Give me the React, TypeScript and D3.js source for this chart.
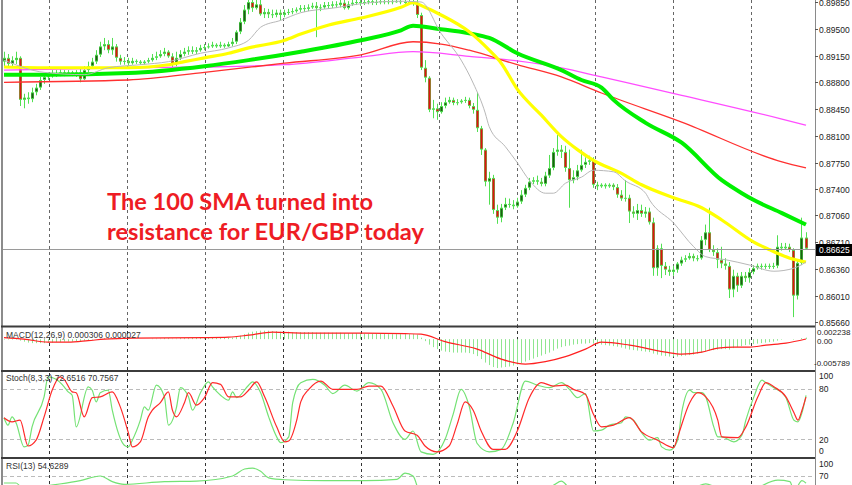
import React from "react";
import * as d3 from "d3";

// ---------- DATA ----------
const OPEN0 = 0.8907;
const closes = [
  0.8912,0.8904,0.8909,0.8912,0.8857,0.8860,0.8858,0.8867,0.8873,0.8883,
  0.8887,0.8888,0.8892,0.8891,0.8893,0.8892,0.8893,0.8891,0.8893,0.8884,
  0.8896,0.8901,0.8907,0.8916,0.8927,0.8930,0.8922,0.8927,0.8912,0.8907,
  0.8908,0.8905,0.8908,0.8907,0.8905,0.8907,0.8909,0.8912,0.8914,0.8917,
  0.8920,0.8914,0.8904,0.8912,0.8917,0.8920,0.8922,0.8920,0.8922,0.8925,
  0.8926,0.8927,0.8929,0.8927,0.8929,0.8927,0.8930,0.8933,0.8946,0.8959,
  0.8975,0.8985,0.8977,0.8982,0.8969,0.8972,0.8969,0.8968,0.8971,0.8968,
  0.8971,0.8972,0.8973,0.8975,0.8977,0.8976,0.8978,0.8980,0.8977,0.8978,
  0.8981,0.8980,0.8982,0.8981,0.8984,0.8977,0.8982,0.8984,0.8985,0.8984,
  0.8985,0.8986,0.8984,0.8985,0.8986,0.8985,0.8986,0.8985,0.8986,0.8985,
  0.8984,0.8985,0.8984,0.8968,0.8899,0.8886,0.8844,0.8846,0.8841,0.8849,
  0.8854,0.8857,0.8853,0.8854,0.8856,0.8857,0.8849,0.8844,0.8820,0.8792,
  0.8750,0.8755,0.8713,0.8703,0.8716,0.8721,0.8720,0.8718,0.8724,0.8733,
  0.8742,0.8750,0.8752,0.8750,0.8747,0.8758,0.8768,0.8789,0.8792,0.8789,
  0.8768,0.8752,0.8756,0.8765,0.8772,0.8776,0.8778,0.8746,0.8744,0.8746,
  0.8744,0.8746,0.8743,0.8733,0.8728,0.8729,0.8711,0.8708,0.8713,0.8708,
  0.8711,0.8697,0.8637,0.8663,0.8640,0.8635,0.8632,0.8635,0.8643,0.8648,
  0.8650,0.8653,0.8650,0.8650,0.8674,0.8684,0.8661,0.8658,0.8648,0.8643,
  0.8640,0.8609,0.8627,0.8614,0.8627,0.8624,0.8632,0.8637,0.8640,0.8639,
  0.8640,0.8639,0.8640,0.8665,0.8663,0.8665,0.8661,0.8601,0.8644,0.8677,
  0.86625,
];
const highs = [
  0.8920,0.8917,0.8914,0.8920,0.8914,0.8865,0.8867,0.8873,0.8878,0.8887,
  0.8891,0.8893,0.8896,0.8896,0.8897,0.8896,0.8896,0.8895,0.8896,0.8899,
  0.8901,0.8907,0.8912,0.8922,0.8933,0.8938,0.8935,0.8938,0.8930,0.8916,
  0.8913,0.8912,0.8912,0.8910,0.8909,0.8909,0.8912,0.8917,0.8920,0.8922,
  0.8925,0.8922,0.8918,0.8920,0.8922,0.8925,0.8927,0.8927,0.8926,0.8929,
  0.8930,0.8931,0.8933,0.8931,0.8933,0.8931,0.8933,0.8938,0.8948,0.8964,
  0.8981,0.8988,0.8988,0.8988,0.8988,0.8977,0.8976,0.8975,0.8975,0.8975,
  0.8975,0.8976,0.8977,0.8978,0.8981,0.8981,0.8982,0.8984,0.8985,0.8982,
  0.8985,0.8985,0.8986,0.8986,0.8988,0.8988,0.8986,0.8988,0.8988,0.8988,
  0.8988,0.8988,0.8988,0.8988,0.8988,0.8988,0.8988,0.8988,0.8988,0.8988,
  0.8988,0.8988,0.8988,0.8988,0.8971,0.8909,0.8888,0.8857,0.8852,0.8854,
  0.8860,0.8861,0.8860,0.8858,0.8858,0.8861,0.8860,0.8853,0.8867,0.8823,
  0.8794,0.8763,0.8759,0.8720,0.8721,0.8729,0.8728,0.8726,0.8729,0.8739,
  0.8746,0.8755,0.8756,0.8758,0.8755,0.8763,0.8785,0.8794,0.8811,0.8798,
  0.8797,0.8792,0.8765,0.8772,0.8792,0.8782,0.8784,0.8782,0.8750,0.8748,
  0.8748,0.8748,0.8748,0.8747,0.8739,0.8752,0.8733,0.8718,0.8721,0.8720,
  0.8717,0.8716,0.8703,0.8667,0.8669,0.8645,0.8640,0.8640,0.8645,0.8652,
  0.8654,0.8657,0.8656,0.8654,0.8679,0.8694,0.8716,0.8667,0.8663,0.8665,
  0.8650,0.8645,0.8635,0.8631,0.8632,0.8632,0.8637,0.8641,0.8643,0.8643,
  0.8643,0.8643,0.8644,0.8680,0.8670,0.8670,0.8669,0.8663,0.8648,0.8703,
  0.8684,
];
const lows = [
  0.8901,0.8899,0.8901,0.8904,0.8849,0.8846,0.8852,0.8854,0.8863,0.8870,
  0.8878,0.8883,0.8886,0.8887,0.8888,0.8888,0.8890,0.8888,0.8887,0.8880,
  0.8883,0.8893,0.8899,0.8904,0.8913,0.8922,0.8918,0.8916,0.8907,0.8903,
  0.8903,0.8901,0.8903,0.8904,0.8903,0.8903,0.8905,0.8907,0.8909,0.8912,
  0.8914,0.8912,0.8900,0.8901,0.8909,0.8914,0.8916,0.8917,0.8917,0.8920,
  0.8922,0.8924,0.8925,0.8925,0.8925,0.8925,0.8926,0.8927,0.8930,0.8943,
  0.8956,0.8969,0.8972,0.8975,0.8967,0.8964,0.8964,0.8964,0.8965,0.8961,
  0.8965,0.8968,0.8969,0.8971,0.8972,0.8972,0.8973,0.8976,0.8939,0.8973,
  0.8976,0.8976,0.8977,0.8977,0.8978,0.8975,0.8975,0.8980,0.8981,0.8980,
  0.8981,0.8982,0.8981,0.8981,0.8982,0.8982,0.8982,0.8982,0.8984,0.8982,
  0.8981,0.8981,0.8980,0.8964,0.8896,0.8880,0.8841,0.8833,0.8831,0.8839,
  0.8846,0.8852,0.8850,0.8850,0.8852,0.8853,0.8846,0.8839,0.8815,0.8785,
  0.8744,0.8720,0.8708,0.8695,0.8697,0.8713,0.8716,0.8714,0.8716,0.8721,
  0.8730,0.8739,0.8747,0.8746,0.8744,0.8744,0.8755,0.8765,0.8784,0.8781,
  0.8763,0.8716,0.8748,0.8752,0.8763,0.8768,0.8772,0.8742,0.8739,0.8742,
  0.8741,0.8742,0.8739,0.8729,0.8725,0.8724,0.8696,0.8703,0.8700,0.8704,
  0.8703,0.8694,0.8627,0.8627,0.8624,0.8628,0.8627,0.8627,0.8631,0.8640,
  0.8645,0.8648,0.8646,0.8646,0.8648,0.8667,0.8658,0.8653,0.8637,0.8637,
  0.8635,0.8598,0.8599,0.8606,0.8611,0.8619,0.8618,0.8629,0.8635,0.8635,
  0.8636,0.8636,0.8636,0.8637,0.8660,0.8661,0.8658,0.8573,0.8596,0.8641,
  0.8661,
];

// Moving averages, read at bar indices: [bar, price]
const sma20 = [[0,0.8909],[10,0.8893],[20,0.8890],[26,0.8899],[34,0.8903],[41,0.8907],[49,0.8918],[56,0.8925],[61,0.8935],[64,0.8952],[69,0.8961],[74,0.8971],[82,0.8977],[91,0.8984],[99,0.8986],[104,0.8985],[109,0.8944],[114,0.8909],[117,0.8879],[120,0.8840],[121,0.8822],[125,0.8796],[128,0.8775],[131,0.8752],[135,0.8735],[137,0.8735],[140,0.8748],[144,0.8756],[147,0.8765],[152,0.8763],[155,0.8751],[160,0.8735],[161,0.8726],[167,0.8696],[172,0.8665],[175,0.8652],[180,0.8648],[186,0.8641],[192,0.8633],[197,0.8637],[200,0.8645]];
const sma50 = [[0,0.8900],[12,0.8899],[19,0.8899],[31,0.8899],[36,0.8900],[41,0.8903],[45,0.8907],[50,0.8912],[56,0.8918],[61,0.8925],[70,0.8935],[74,0.8943],[81,0.8955],[89,0.8964],[99,0.8978],[102,0.8984],[105,0.8978],[109,0.8968],[116,0.8946],[121,0.8922],[124,0.8905],[128,0.8871],[134,0.8837],[139,0.8809],[143,0.8792],[147,0.8778],[154,0.8761],[159,0.8746],[167,0.8729],[174,0.8716],[179,0.8700],[187,0.8671],[191,0.8661],[196,0.8650],[200,0.8645]];
const sma100 = [[0,0.8890],[11,0.8890],[31,0.8892],[50,0.8901],[61,0.8909],[74,0.8920],[89,0.8935],[99,0.8948],[102,0.8954],[108,0.8950],[116,0.8944],[121,0.8938],[128,0.8918],[139,0.8896],[144,0.8883],[149,0.8873],[152,0.8857],[160,0.8827],[169,0.8801],[179,0.8752],[184,0.8735],[187,0.8726],[194,0.8709],[200,0.8694]];
const sma200 = [[0,0.8880],[31,0.8883],[50,0.8893],[70,0.8905],[89,0.8916],[102,0.8933],[109,0.8930],[116,0.8922],[128,0.8903],[139,0.8887],[149,0.8866],[169,0.8828],[194,0.8776],[200,0.8768]];
const ema200 = [[0,0.8896],[31,0.8899],[50,0.8900],[70,0.8903],[89,0.8913],[102,0.8920],[116,0.8914],[128,0.8908],[139,0.8899],[149,0.8887],[169,0.8863],[194,0.8832],[200,0.8824]];

const priceTicks = [0.8985,0.8950,0.8915,0.8880,0.8845,0.8810,0.8775,0.8740,0.8706,0.8671,0.8636,0.8601,0.8566];
const priceTickLabels = ["0.89850","0.89500","0.89150","0.88800","0.88450","0.88100","0.87750","0.87400","0.87060","0.86710","0.86360","0.86010","0.85660"];
const lastPrice = 0.86625;
const lastPriceLabel = "0.86625";

// MACD(12,26,9): histogram per bar in units of 1e-4, signal line read at bars
const MACD_UNIT = 1e-4;
const macdHist = [
  -1,-1,-1,-1,-3,-5,-7,-8,-8,-8,
  -8,-7,-7,-6,-6,-5,-5,-5,-4,-4,
  -3,-2,-1,0,1,2,2,2,1,1,
  1,0,0,0,0,0,0,1,1,1,
  2,2,1,1,2,2,2,3,3,3,
  3,3,3,3,3,3,3,3,5,7,
  10,13,15,16,17,17,17,16,16,15,
  15,15,14,14,14,14,14,14,13,13,
  13,13,13,13,13,12,12,12,12,12,
  11,11,11,11,11,11,10,10,10,10,
  10,10,10,9,3,-4,-11,-16,-20,-23,
  -25,-26,-27,-27,-27,-27,-28,-30,-34,-40,
  -47,-52,-56,-58,-57,-56,-55,-53,-51,-48,
  -45,-42,-39,-36,-33,-30,-27,-23,-19,-16,
  -14,-13,-11,-10,-9,-9,-8,-9,-10,-11,
  -12,-13,-14,-15,-17,-19,-21,-22,-23,-24,
  -25,-26,-29,-31,-33,-34,-35,-35,-35,-34,
  -33,-32,-31,-29,-27,-25,-23,-22,-21,-20,
  -20,-21,-18,-16,-14,-12,-11,-10,-9,-8,
  -7,-6,-5,-3,-1,0,0,-1,0,2,
  3.06,
];
const macdSignal = [[0,3],[5,0],[11,-6],[16,-6],[21,-3],[25,0],[32,2],[50,3],[56,4],[61,8],[67,14],[75,12],[90,12],[100,11],[104,10],[110,-5],[118,-20],[124,-40],[130,-50],[135,-45],[140,-35],[145,-20],[149,-6],[156,-12],[165,-26],[169,-30],[174,-26],[178,-18],[182,-16],[186,-16],[190,-12],[195,-8],[200,0.27]];
const macdMax = 0.002238;
const macdMin = -0.005789;

// Stochastic(8,3,3): [bar, value]
const stochMain = [[0,46],[1,37],[2,47],[3,40],[5,11],[6,13],[7,35],[10,71],[11,95],[13,92],[15,83],[16,77],[17,73],[18,35],[21,83],[22,79],[23,65],[24,76],[26,79],[27,55],[30,13],[31,11],[32,19],[34,43],[35,59],[36,55],[38,85],[40,71],[41,37],[43,58],[44,82],[46,71],[47,55],[49,76],[51,89],[52,83],[54,73],[56,67],[57,77],[58,70],[61,85],[62,89],[64,76],[66,47],[68,23],[69,16],[71,23],[72,64],[74,88],[77,92],[80,85],[82,75],[85,85],[88,78],[91,88],[94,80],[97,40],[100,20],[102,30],[104,5],[107,2],[110,20],[112,50],[114,80],[116,60],[118,15],[121,5],[124,8],[127,40],[130,90],[133,85],[136,82],[139,88],[141,80],[143,70],[145,75],[147,30],[149,31],[151,37],[154,40],[155,47],[157,43],[159,28],[161,19],[163,22],[164,11],[166,7],[168,19],[169,52],[171,79],[172,76],[174,76],[175,71],[177,35],[178,23],[179,23],[182,17],[184,25],[185,43],[187,71],[189,91],[190,88],[192,82],[194,76],[195,70],[197,43],[198,41],[199,52],[200,72.65]];
const stochSignal = [[0,46],[2,41],[4,43],[6,12],[8,19],[10,47],[12,79],[14,95],[15,92],[17,77],[18,76],[20,47],[22,70],[24,71],[27,77],[29,59],[31,28],[32,11],[34,17],[36,47],[37,55],[39,64],[41,77],[42,55],[43,47],[45,64],[46,76],[48,61],[50,70],[52,88],[54,86],[56,71],[59,71],[61,79],[63,89],[65,71],[68,35],[70,17],[71,18],[73,43],[74,65],[76,80],[79,90],[82,80],[85,80],[88,80],[91,84],[94,84],[97,60],[100,30],[103,25],[105,12],[108,5],[111,12],[113,38],[115,65],[117,55],[119,30],[122,8],[125,8],[128,30],[131,70],[134,88],[137,84],[140,85],[142,80],[145,74],[147,50],[149,35],[152,37],[156,46],[159,29],[163,19],[167,10],[168,23],[171,64],[173,76],[175,71],[178,43],[179,23],[183,22],[185,35],[188,71],[190,88],[192,83],[195,71],[197,52],[198,43],[199,55],[200,70.76]];

// RSI(13): [bar, value]
const rsi = [[0,55],[3,55],[5,40],[10,48],[19,60],[24,70],[27,58],[30,52],[40,58],[48,59],[57,70],[60,85],[62,87],[64,80],[66,66],[70,62],[80,60],[90,60],[98,63],[100,76],[102,70],[104,30],[110,32],[118,25],[122,18],[130,35],[137,50],[139,59],[141,45],[147,35],[155,32],[162,25],[170,35],[175,53],[180,38],[186,40],[193,61],[196,58],[197,38],[199,60],[200,54.63]];

// ---------- LAYOUT ----------
const W = 852, H = 485;
const N = closes.length;
const PLOT_L = 3, PLOT_R = 815;
const MAIN = { top: 0, bottom: 325 };
const MACDP = { top: 328, bottom: 368 };
const STOCH = { top: 372, bottom: 456 };
const RSIP = { top: 459, bottom: 509 };

const x = d3.scaleLinear().domain([0, N - 1]).range([4, 806]);
const yMain = d3.scaleLinear().domain([0.85627, 0.89876]).range([MAIN.bottom, MAIN.top]);
const yMacd = d3.scaleLinear().domain([macdMin, macdMax]).range([MACDP.bottom, MACDP.top]);
const yStoch = d3.scaleLinear().domain([0, 100]).range([456, 372.7]);
const yRsi = d3.scaleLinear().domain([0, 100]).range([508.7, 462]);

const gridBars = d3.range(10).map((k) => 11.2 + 19.45 * k);

const WICK = "#52e052";
const BULL = "#1c5f12";
const BEAR = "#e01212";

function lineFor(data: number[][], yS: any, curve = d3.curveMonotoneX) {
  return d3.line<number[]>().x((d) => x(d[0])).y((d) => yS(d[1])).curve(curve)(data) || "";
}

export default function App() {
  const candles = closes.map((c, i) => {
    const o = i === 0 ? OPEN0 : closes[i - 1];
    const h = Math.max(highs[i], o, c);
    const l = Math.min(lows[i], o, c);
    return { i, o, h, l, c };
  });
  const labelFont = "Liberation Sans, Arial, sans-serif";
  const yLast = Math.round(yMain(lastPrice)) + 0.5;
  return (
    <svg width={W} height={H} style={{ position: "absolute", left: 0, top: 0, background: "#fff" }}>
      <defs>
        <clipPath id="cm"><rect x={PLOT_L} y={MAIN.top} width={PLOT_R - PLOT_L} height={MAIN.bottom - MAIN.top} /></clipPath>
        <clipPath id="cs"><rect x={PLOT_L} y={STOCH.top} width={PLOT_R - PLOT_L} height={STOCH.bottom - STOCH.top} /></clipPath>
        <clipPath id="cr"><rect x={PLOT_L} y={RSIP.top} width={PLOT_R - PLOT_L} height={H - RSIP.top} /></clipPath>
        <clipPath id="cmacd"><rect x={PLOT_L} y={MACDP.top - 1} width={PLOT_R - PLOT_L} height={MACDP.bottom - MACDP.top + 2} /></clipPath>
      </defs>
      <rect x={0} y={0} width={W} height={H} fill="#fff" />

      {/* vertical dashed grid */}
      {gridBars.map((b, k) => (
        <g key={k}>
          <line x1={Math.round(x(b)) + 0.5} x2={Math.round(x(b)) + 0.5} y1={0} y2={MAIN.bottom}
            stroke="#666" strokeWidth={1} strokeDasharray="3,3" />
          <line x1={Math.round(x(b)) + 0.5} x2={Math.round(x(b)) + 0.5} y1={MAIN.bottom} y2={H}
            stroke="#333" strokeWidth={1} strokeDasharray="3,3" />
        </g>
      ))}

      {/* level lines */}
      {[80, 20].map((v) => (
        <line key={v} x1={PLOT_L} x2={PLOT_R} y1={Math.round(yStoch(v)) + 0.5} y2={Math.round(yStoch(v)) + 0.5}
          stroke="#bbb" strokeDasharray="4,3" />
      ))}
      <line x1={PLOT_L} x2={PLOT_R} y1={Math.round(yRsi(70)) + 0.5} y2={Math.round(yRsi(70)) + 0.5} stroke="#bbb" strokeDasharray="4,3" />

      {/* MAIN PANEL */}
      <g clipPath="url(#cm)">
        {candles.map((d) => {
          const cx = Math.floor(x(d.i)) + 0.5;
          const top = yMain(Math.max(d.o, d.c));
          const bot = yMain(Math.min(d.o, d.c));
          const hgt = Math.max(1, bot - top);
          const bull = d.c >= d.o;
          return (
            <g key={d.i}>
              <line x1={cx} x2={cx} y1={yMain(d.h)} y2={yMain(d.l)} stroke={WICK} strokeWidth={1} />
              <rect x={cx - 1.5} y={top} width={3} height={hgt} fill={WICK} />
              {hgt > 2 && <rect x={cx - 1} y={top + 1} width={2} height={hgt - 2} fill={bull ? BULL : BEAR} />}
            </g>
          );
        })}
        <path d={lineFor(ema200, yMain)} fill="none" stroke="#ff4dff" strokeWidth={1.3} />
        <path d={lineFor(sma200, yMain)} fill="none" stroke="#ff3030" strokeWidth={1.3} />
        <path d={lineFor(sma100, yMain)} fill="none" stroke="#00f000" strokeWidth={4} />
        <path d={lineFor(sma50, yMain)} fill="none" stroke="#ffff00" strokeWidth={3.2} />
        <path d={lineFor(sma20, yMain)} fill="none" stroke="#b8b8b8" strokeWidth={1} />
        <line x1={PLOT_L} x2={PLOT_R} y1={yLast} y2={yLast} stroke="#9a9a9a" strokeWidth={1} />
      </g>

      <text x={107} y={210} fontFamily="Lato, sans-serif" fontWeight={700} fontSize={23} fill="#ee1c24"
        textLength={266} lengthAdjust="spacingAndGlyphs">The 100 SMA turned into</text>
      <text x={107} y={240} fontFamily="Lato, sans-serif" fontWeight={700} fontSize={23} fill="#ee1c24"
        textLength={317} lengthAdjust="spacingAndGlyphs">resistance for EUR/GBP today</text>

      {/* MACD PANEL */}
      <g clipPath="url(#cmacd)">
        {macdHist.map((v, i) => {
          const cx = Math.floor(x(i)) + 0.5;
          return <line key={i} x1={cx} x2={cx} y1={yMacd(0)} y2={yMacd(v * MACD_UNIT)} stroke="#8fe68f" strokeWidth={1} />;
        })}
        <path d={d3.line<number[]>().x((d) => x(d[0])).y((d) => yMacd(d[1] * MACD_UNIT)).curve(d3.curveMonotoneX)(macdSignal) || ""}
          fill="none" stroke="#ff2020" strokeWidth={1.2} />
      </g>
      <text x={6} y={338} fontFamily={labelFont} fontSize={8.5} fill="#333">MACD(12,26,9) 0.000306 0.000027</text>

      {/* STOCH PANEL */}
      <g clipPath="url(#cs)">
        <path d={lineFor(stochMain, yStoch)} fill="none" stroke="#74e274" strokeWidth={1.2} />
        <path d={lineFor(stochSignal, yStoch)} fill="none" stroke="#ff2a2a" strokeWidth={1.2} />
      </g>
      <text x={6} y={381} fontFamily={labelFont} fontSize={8.5} fill="#333">Stoch(8,3,3) 72.6516 70.7567</text>

      {/* RSI PANEL */}
      <g clipPath="url(#cr)">
        <path d={lineFor(rsi, yRsi)} fill="none" stroke="#74e274" strokeWidth={1.2} />
      </g>
      <text x={6} y={469} fontFamily={labelFont} fontSize={8.5} fill="#333">RSI(13) 54.6289</text>

      {/* separators and frame */}
      <rect x={1} y={0} width={2} height={H} fill="#8c8c8c" />
      {[325.5, 370, 457].map((yy, k) => (
        <rect key={k} x={1} y={yy} width={PLOT_R - 1} height={2} fill="#3c3c3c" />
      ))}
      <line x1={PLOT_R + 0.5} x2={PLOT_R + 0.5} y1={0} y2={H} stroke="#8a8a8a" strokeWidth={1} />

      {/* price axis */}
      {priceTicks.map((p, k) => {
        const yy = Math.round(yMain(p)) + 0.5;
        return (
          <g key={k}>
            <line x1={PLOT_R} x2={PLOT_R + 3} y1={yy} y2={yy} stroke="#555" />
            <text x={819} y={yy + 3} fontFamily={labelFont} fontSize={8.5} fill="#222">{priceTickLabels[k]}</text>
          </g>
        );
      })}
      <rect x={816} y={yLast - 5.5} width={36} height={12} fill="#000" />
      <text x={819} y={yLast + 3.5} fontFamily={labelFont} fontSize={8.5} fill="#fff">{lastPriceLabel}</text>

      {/* MACD axis */}
      <text x={817} y={335} fontFamily={labelFont} fontSize={8} fill="#222">0.002238</text>
      <text x={817} y={344} fontFamily={labelFont} fontSize={8} fill="#222">0.00</text>
      <text x={814} y={366} fontFamily={labelFont} fontSize={8} fill="#222">-0.005789</text>

      {/* Stoch axis */}
      {[[100, 379], [80, 392], [20, 443], [0, 454]].map(([v, yy]) => (
        <text key={v} x={819} y={yy} fontFamily={labelFont} fontSize={8.5} fill="#222">{v}</text>
      ))}
      {/* RSI axis */}
      {[[100, 467], [70, 479]].map(([v, yy]) => (
        <text key={v} x={819} y={yy} fontFamily={labelFont} fontSize={8.5} fill="#222">{v}</text>
      ))}
    </svg>
  );
}
